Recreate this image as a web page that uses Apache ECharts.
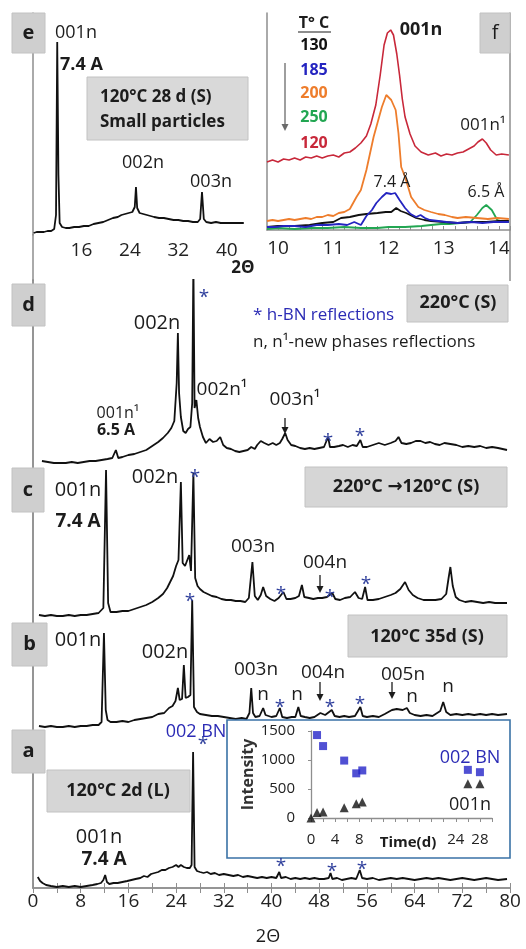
<!DOCTYPE html>
<html>
<head>
<meta charset="utf-8">
<script src="https://cdn.jsdelivr.net/npm/echarts@6.0.0/dist/echarts.min.js"></script>
<style>
  html, body { margin: 0; padding: 0; background: #fff; }
  #chart { width: 526px; height: 949px; }
</style>
</head>
<body>
<div id="chart"></div>
<script>
// ---- data ----
// main panel: 2theta, intensity above each pattern's own baseline
var patternA = [[0.8,10],[1.2,6],[1.6,4],[2.2,2],[3,1],[4,0],[5,1],[6,0],[7,1],[8,0],[9,1],[10,2],[10.8,3],[11.4,4],[11.8,7],[12.1,12],[12.4,5],[12.8,3],[13.5,4],[14.2,4],[15,5],[15.8,6],[16.5,7],[17.2,8],[18,9],[18.6,11],[19.2,10],[19.8,13],[20.4,14],[21,15],[21.6,17],[22.2,17],[22.8,19],[23.4,20],[24,22],[24.4,20],[24.8,22],[25.3,20],[25.8,19],[26.3,19],[26.6,22],[26.85,135],[27.1,20],[27.5,16],[28,15],[28.6,14],[29.2,15],[29.8,13],[30.5,14],[31.2,12],[32,13],[32.8,12],[33.6,11],[34.4,12],[35.2,10],[36,11],[36.8,10],[37.6,9],[38.4,10],[39.2,9],[40,10],[40.8,9],[41.3,15],[41.6,9],[42.4,10],[43.2,8],[44,9],[44.8,8],[45.6,9],[46.4,8],[47.2,9],[48,8],[48.8,8],[49.6,9],[49.9,14],[50.2,8],[51,9],[51.8,7],[52.6,8],[53.4,9],[54.2,8],[54.8,17],[55.2,9],[56,8],[57,9],[58,7],[59,8],[60,9],[61,8],[62,9],[63,8],[64,7],[65,8],[66,9],[67,8],[68,9],[69,8],[70,7],[71,8],[72,9],[73,8],[74,7],[75,8],[76,9],[77,8],[78,7],[79.5,8]];
var patternB = [[1,1],[2,0],[3,1],[4,0],[5,0],[6,1],[7,0],[8,1],[9,1],[10,2],[11,2],[11.5,5],[11.9,94],[12.2,17],[12.5,7],[13,5],[14,5],[15,6],[16,5],[17,7],[18,8],[19,9],[20,10],[21,13],[22,14],[22.8,19],[23.4,21],[23.9,26],[24.3,39],[24.6,27],[25,28],[25.3,62],[25.6,29],[26,30],[26.4,32],[26.7,127],[27,20],[27.5,15],[28,13],[29,12],[30,11],[31,11],[32,10],[33,9],[34,8],[35,9],[35.8,8],[36.3,14],[36.6,39],[36.9,14],[37.3,10],[38,11],[38.6,19],[39,12],[40,10],[40.8,11],[41.4,19],[41.8,10],[42.6,9],[43.4,10],[44,10],[44.5,20],[44.9,11],[45.6,10],[46.4,9],[47.2,10],[48.2,14],[49,12],[50.1,17],[50.6,11],[51.4,10],[52.2,11],[53,10],[54,11],[54.9,20],[55.3,11],[56,10],[57,11],[58,10],[59,13],[60.2,17],[61,18],[62,17],[62.7,19],[63.2,14],[64,12],[65,11],[66,12],[67,11],[68.3,16],[68.8,25],[69.3,15],[70,12],[71,13],[72,12],[73,13],[74,12],[75,13],[76,12],[77,13],[78,12],[79.5,13]];
var patternC = [[1,1],[2,0],[3,1],[4,0],[5,0],[6,1],[7,0],[8,1],[9,1],[10,2],[11,3],[11.8,8],[12.25,146],[12.6,13],[13,4],[14,4],[15,5],[16,5],[17,7],[18,9],[19,11],[20,14],[21,18],[21.8,22],[22.5,28],[23,34],[23.5,40],[24,50],[24.4,56],[24.8,134],[25.1,53],[25.5,50],[25.8,52],[26.2,61],[26.5,45],[26.9,143],[27.2,38],[27.6,30],[28,27],[28.6,24],[29.3,22],[30,20],[30.8,19],[31.6,17],[32.4,16],[33.2,16],[34,15],[34.8,15],[35.6,14],[36.2,18],[36.8,54],[37.2,20],[37.7,16],[38.2,21],[38.6,29],[39.1,20],[39.8,17],[40.5,15],[41.2,18],[42,24],[42.5,17],[43.2,17],[44,18],[44.6,20],[45.1,31],[45.5,19],[46.3,18],[47,17],[47.8,18],[48.5,18],[49.3,19],[50.2,23],[50.7,17],[51.5,16],[52.3,18],[53.2,19],[54,24],[54.6,18],[55.2,17],[55.7,29],[56.1,16],[57,16],[58,17],[59,19],[60,21],[60.8,23],[61.6,27],[62.4,34],[63,26],[63.7,21],[64.5,18],[65.5,16],[66.5,16],[67.5,16],[68.5,17],[69.3,22],[69.7,38],[70,49],[70.4,30],[70.9,19],[71.5,16],[72.5,14],[73.5,15],[74.5,14],[75.5,13],[76.5,14],[77.5,13],[78.5,13],[79.5,13]];
var patternD = [[1.5,2],[2.5,1],[3.5,0],[4.5,0],[5.5,0],[6.5,1],[7.5,0],[8.5,1],[9.5,2],[10.5,2],[11.5,3],[12.5,4],[13.3,5],[13.9,13],[14.3,5],[15,6],[16,8],[17,9],[18,11],[19,13],[20,17],[21,21],[21.8,25],[22.6,30],[23.2,35],[23.7,42],[24.1,80],[24.3,130],[24.5,70],[24.8,46],[25.2,32],[25.6,30],[26,34],[26.4,36],[26.7,60],[26.9,200],[27.1,55],[27.4,63],[27.7,45],[28,36],[28.5,26],[29,20],[29.6,24],[30.2,21],[30.8,22],[31.4,26],[31.9,18],[32.5,15],[33.2,14],[33.9,12],[34.6,11],[35.3,12],[36,13],[36.6,16],[37.2,14],[37.6,18],[38.2,22],[38.8,20],[39.5,18],[40.2,20],[40.8,18],[41.4,20],[41.8,24],[42.3,30],[42.7,23],[43.3,18],[44,17],[44.8,15],[45.6,14],[46.4,15],[47.2,14],[48,15],[48.8,16],[49.5,26],[49.8,16],[50.5,16],[51.3,17],[52,18],[52.8,16],[53.6,18],[54.3,17],[54.9,23],[55.3,16],[56,16],[57,18],[58,20],[59,18],[60,20],[60.8,22],[61.3,26],[61.8,20],[62.6,19],[63.4,20],[64.2,22],[65,22],[65.8,20],[66.6,21],[67.4,19],[68.2,18],[69,20],[70,19],[71,18],[72,16],[73,17],[74,16],[75,17],[76,15],[77,16],[78,15],[79.5,13]];
var patternOffsets = [1, 161, 272, 425];   // a, b, c, d stacked

// panel e: 120C 28 d small particles
var patternE = [[8.1,2],[8.6,3],[9.2,3],[9.8,3],[10.4,4],[11,4],[11.5,6],[11.8,20],[12.0,193],[12.2,60],[12.4,12],[12.8,8],[13.4,7],[14,7],[14.8,8],[15.6,8],[16.4,9],[17.2,9],[18,11],[18.8,12],[19.6,13],[20.4,15],[21.2,17],[22,18],[22.6,20],[23.2,21],[23.8,22],[24.4,23],[24.8,28],[25.0,48],[25.2,27],[25.6,22],[26.2,21],[26.8,20],[27.4,19],[28,18],[28.8,17],[29.6,17],[30.4,16],[31.2,15],[32,15],[32.8,14],[33.6,14],[34.4,13],[35.2,13],[35.6,16],[35.9,43],[36.2,16],[36.6,13],[37.4,12],[38.2,13],[39,12],[39.8,12],[40.6,12],[41.4,12],[42.2,12],[42.8,12]];

// panel f: 001n region at different temperatures
var fTemps = ['130', '185', '200', '250', '120'];
var fColors = ['#111111', '#2424c0', '#ee7d2c', '#22a652', '#c8283a'];
var f130 = [[9.8,3],[10.0,4],[10.3,4],[10.57,5],[10.8,7],[11.0,8],[11.14,12],[11.3,13],[11.46,15],[11.6,16],[11.8,17],[11.95,18],[12.05,18],[12.14,22],[12.22,19],[12.32,17],[12.5,12],[12.65,10],[12.77,9],[13.0,8],[13.25,7],[13.5,8],[13.77,8],[14.0,9],[14.18,9]];
var f185 = [[9.8,3],[9.95,3],[10.1,4],[10.3,4],[10.5,3],[10.7,5],[10.9,5],[11.1,6],[11.25,5],[11.38,8],[11.5,5],[11.6,14],[11.7,20],[11.78,27],[11.88,33],[11.96,37],[12.05,36],[12.12,37],[12.2,30],[12.3,22],[12.4,16],[12.5,13],[12.58,15],[12.66,12],[12.75,10],[12.9,9],[13.05,8],[13.25,7],[13.5,8],[13.7,7],[13.9,8],[14.18,8]];
var f200 = [[9.8,9],[9.9,10],[10.0,9],[10.1,10],[10.2,11],[10.3,10],[10.4,11],[10.5,12],[10.6,11],[10.7,13],[10.8,13],[10.9,15],[11.0,14],[11.1,17],[11.2,18],[11.3,21],[11.42,33],[11.5,40],[11.6,60],[11.73,93],[11.88,123],[11.96,135],[12.05,130],[12.13,120],[12.18,97],[12.23,63],[12.3,53],[12.41,33],[12.54,23],[12.65,20],[12.77,18],[12.9,16],[13.02,15],[13.15,13],[13.25,12],[13.4,13],[13.6,12],[13.8,11],[13.97,12],[14.18,11]];
var f250 = [[9.8,1],[10.0,2],[10.3,1],[10.6,2],[10.9,2],[11.2,3],[11.5,2],[11.8,2],[12.0,3],[12.3,3],[12.6,4],[12.77,5],[12.95,6],[13.1,6],[13.3,7],[13.48,8],[13.6,15],[13.7,22],[13.77,25],[13.87,20],[13.97,10],[14.1,8],[14.18,8]];
var f120 = [[9.8,68],[9.9,70],[10.0,68],[10.1,71],[10.2,70],[10.3,72],[10.4,70],[10.5,73],[10.6,72],[10.7,74],[10.8,72],[10.9,74],[11.0,75],[11.1,73],[11.2,77],[11.3,78],[11.4,82],[11.5,87],[11.6,94],[11.68,106],[11.77,125],[11.85,155],[11.92,185],[11.98,197],[12.04,200],[12.09,195],[12.15,176],[12.2,155],[12.25,131],[12.3,113],[12.39,96],[12.48,84],[12.59,78],[12.72,75],[12.85,77],[12.95,74],[13.05,76],[13.15,75],[13.25,77],[13.35,78],[13.45,81],[13.55,84],[13.62,88],[13.7,91],[13.77,87],[13.85,80],[13.95,75],[14.05,76],[14.18,75]];

// inset: peak intensity vs time
var insetDays  = [1, 2, 5.5, 7.5, 8.5, 26, 28];
var insetBN    = [1430, 1240, 990, 770, 820, 830, 790];
var insetDays001 = [0, 1, 2, 5.5, 7.5, 8.5, 26, 28];
var inset001   = [0, 95, 105, 175, 245, 275, 590, 590];

var mainTickLabels  = [0, 8, 16, 24, 32, 40, 48, 56, 64, 72, 80];
var eTickLabels     = [16, 24, 32, 40];
var insetTimeLabels = [0, 4, 8, 24, 28];

// ---- chart ----
var FONT = '"Open Sans", "DejaVu Sans", sans-serif';
var GRAY = '#8e8e8e';
var chart = echarts.init(document.getElementById('chart'));

function stacked(pts, off) {
    return pts.map(function (p) { return [p[0], p[1] + off]; });
}
function lineSeries(data, xi, yi, color, width, z) {
    return {
        type: 'line', data: data, xAxisIndex: xi, yAxisIndex: yi,
        showSymbol: false, symbol: 'none', smooth: false, z: z || 2,
        lineStyle: { color: color, width: width || 1.8 }, silent: true
    };
}
function txt(x, y, s, o) {
    o = o || {};
    return {
        type: 'text', x: x, y: y, z: 50, silent: true,
        style: {
            text: s, fill: o.color || '#1c1c1c',
            font: (o.bold ? 'bold ' : '') + (o.size || 18) + 'px ' + FONT,
            align: o.align || 'center', verticalAlign: 'middle'
        }
    };
}
function box(x, y, w, h, fill) {
    return {
        type: 'rect', z: 45, silent: true,
        shape: { x: x, y: y, width: w, height: h },
        style: { fill: fill || '#d6d6d6', stroke: '#c2c2c2', lineWidth: 1 }
    };
}
function seg(x1, y1, x2, y2, color, w, z) {
    return {
        type: 'line', z: z || 45, silent: true,
        shape: { x1: x1, y1: y1, x2: x2, y2: y2 },
        style: { stroke: color || GRAY, lineWidth: w || 1.5 }
    };
}
function arrowDown(x, y1, y2, color) {
    color = color || '#1c1c1c';
    return [
        seg(x, y1, x, y2 - 5, color, 1.3, 50),
        { type: 'polygon', z: 50, silent: true,
          shape: { points: [[x - 3.5, y2 - 7], [x + 3.5, y2 - 7], [x, y2]] },
          style: { fill: color } }
    ];
}
function star(x, y) {
    return txt(x, y + 5, '*', { color: '#2f3f9c', size: 19 });
}

var BLUE_TXT = '#2b2bb5';

var graphics = [
    // connecting frame pieces between panels
    seg(33, 234, 33, 281),
    seg(510, 229, 510, 281),
    // inset frame
    { type: 'rect', z: 10, silent: true,
      shape: { x: 227, y: 720, width: 283, height: 138 },
      style: { fill: '#ffffff', stroke: '#3a72a6', lineWidth: 1.6 } },

    // panel e
    box(12, 13, 33, 40, '#cfcfcf'), txt(28.5, 33, 'e', { bold: true, size: 20 }),
    txt(55, 33, '001n', { align: 'left' }),
    txt(60, 65, '7.4 A', { bold: true, align: 'left' }),
    box(87, 77, 161, 63, '#d9d9d9'),
    txt(100, 97, '120°C 28 d (S)', { bold: true, align: 'left', size: 17 }),
    txt(100, 122, 'Small particles', { bold: true, align: 'left', size: 17 }),
    txt(143, 163, '002n'),
    txt(211, 182, '003n'),
    txt(243, 268, '2Θ', { bold: true, size: 17 }),

    // panel f
    txt(314, 23, 'T° C', { bold: true, size: 16 }),
    seg(298, 32, 331, 32, '#1c1c1c', 1.2, 50),
    txt(421, 30, '001n', { bold: true, size: 18 }),
    box(480, 13, 30, 40, '#cfcfcf'), txt(495, 33, 'f', { size: 20 }),
    txt(483, 125, '001n¹', { size: 17 }),
    txt(392, 182, '7.4 Å', { size: 16 }),
    txt(486, 192, '6.5 Å', { size: 16 }),

    // letter boxes for a-d
    box(12, 284, 33, 42, '#cfcfcf'), txt(28.5, 305, 'd', { bold: true, size: 20 }),
    box(12, 468, 32, 44, '#cfcfcf'), txt(28, 490, 'c', { bold: true, size: 20 }),
    box(12, 623, 35, 43, '#cfcfcf'), txt(29.5, 644, 'b', { bold: true, size: 20 }),
    box(12, 730, 33, 43, '#cfcfcf'), txt(28.5, 751, 'a', { bold: true, size: 20 }),

    // condition boxes
    box(407, 285, 101, 37), txt(458, 303, '220°C (S)', { bold: true, size: 18 }),
    box(305, 467, 202, 40), txt(406, 487, '220°C →120°C (S)', { bold: true, size: 18 }),
    box(348, 615, 159, 42), txt(427, 637, '120°C 35d (S)', { bold: true, size: 18 }),
    box(47, 770, 143, 42), txt(118, 791, '120°C 2d (L)', { bold: true, size: 18 }),

    // legend notes
    txt(253, 315, '* h-BN reflections', { color: BLUE_TXT, align: 'left', size: 17 }),
    txt(253, 342, 'n, n¹-new phases reflections', { align: 'left', size: 17 }),

    // d
    txt(157, 323, '002n', { size: 20 }),
    txt(222, 390, '002n¹', { size: 19 }),
    txt(295, 400, '003n¹', { size: 19 }),
    txt(118, 413, '001n¹', { size: 16 }),
    txt(116, 430, '6.5 A', { bold: true, size: 16 }),
    star(204, 293), star(328, 437), star(360, 432),

    // c
    txt(78, 490, '001n', { size: 20 }),
    txt(78, 522, '7.4 A', { bold: true, size: 19 }),
    txt(155, 477, '002n', { size: 20 }),
    txt(253, 547, '003n', { size: 19 }),
    txt(325, 563, '004n', { size: 19 }),
    star(195, 473), star(281, 590), star(330, 593), star(366, 580),

    // b
    txt(78, 640, '001n', { size: 20 }),
    txt(165, 652, '002n', { size: 20 }),
    txt(256, 670, '003n', { size: 19 }),
    txt(323, 673, '004n', { size: 19 }),
    txt(403, 675, '005n', { size: 19 }),
    txt(263, 695, 'n', { size: 19 }), txt(297, 695, 'n', { size: 19 }),
    txt(412, 697, 'n', { size: 19 }), txt(448, 687, 'n', { size: 19 }),
    star(190, 597), star(280, 703), star(330, 703), star(360, 700),

    // a
    txt(196, 732, '002 BN', { color: BLUE_TXT, size: 18 }),
    txt(99, 837, '001n', { size: 20 }),
    txt(104, 860, '7.4 A', { bold: true, size: 19 }),
    star(203, 740), star(281, 862), star(332, 867), star(362, 865),

    // inset texts
    txt(470, 758, '002 BN', { color: BLUE_TXT, size: 18 }),
    txt(470, 805, '001n', { size: 18 }),
    txt(408, 843, 'Time(d)', { bold: true, size: 15 }),

    // bottom axis title
    txt(268, 937, '2Θ', { size: 18 })
];
graphics = graphics
    .concat(arrowDown(285, 418, 434))
    .concat(arrowDown(320, 575, 593))
    .concat(arrowDown(320, 682, 701))
    .concat(arrowDown(392, 682, 699))
    .concat(arrowDown(285, 63, 131, '#6a6a6a'));

// f legend temperatures
var fLegendY = [45, 70, 93, 117, 143];
fTemps.forEach(function (t, i) {
    graphics.push(txt(314, fLegendY[i], t, { bold: true, size: 16, color: fColors[i] }));
});

var hidden = { show: false };
var option = {
    animation: false,
    backgroundColor: '#ffffff',
    grid: [
        { left: 33, top: 280, width: 477, height: 608 },   // main a-d
        { left: 33, top: 13, width: 212, height: 222 },    // e
        { left: 267, top: 13, width: 243, height: 217 },   // f
        { left: 311, top: 731, width: 181, height: 87 }    // inset
    ],
    xAxis: [
        { type: 'value', gridIndex: 0, min: 0, max: 80, interval: 4,
          axisLine: { lineStyle: { color: GRAY, width: 1.5 } },
          axisTick: { inside: true, length: 5, lineStyle: { color: GRAY } },
          axisLabel: { margin: 4, fontSize: 19, color: '#222', fontFamily: FONT,
              formatter: function (v) { return mainTickLabels.indexOf(v) >= 0 ? String(v) : ''; } },
          splitLine: hidden },
        { type: 'value', gridIndex: 0, position: 'top', min: 0, max: 80, interval: 4,
          axisLine: { lineStyle: { color: GRAY, width: 1.5 } },
          axisTick: { inside: true, length: 5, lineStyle: { color: GRAY } },
          axisLabel: hidden, splitLine: hidden },
        { type: 'value', gridIndex: 1, min: 8, max: 43, interval: 8,
          axisLine: hidden, axisTick: hidden, splitLine: hidden,
          axisLabel: { margin: 6, fontSize: 19, color: '#222', fontFamily: FONT, showMaxLabel: false,
              formatter: function (v) { return eTickLabels.indexOf(v) >= 0 ? String(v) : ''; } } },
        { type: 'value', gridIndex: 2, min: 9.8, max: 14.2, interval: 0.2,
          axisLine: { lineStyle: { color: GRAY, width: 1.5 } },
          axisTick: { inside: true, length: 4, lineStyle: { color: GRAY } },
          axisLabel: { margin: 9, fontSize: 19, color: '#222', fontFamily: FONT,
              formatter: function (v) { return Math.abs(v - Math.round(v)) < 1e-6 ? String(Math.round(v)) : ''; } },
          splitLine: hidden },
        { type: 'value', gridIndex: 3, min: 0, max: 30, interval: 2, z: 12,
          axisLine: { lineStyle: { color: GRAY, width: 1.3 } },
          axisTick: { length: 4, lineStyle: { color: GRAY } },
          axisLabel: { margin: 14, fontSize: 15, color: '#222', fontFamily: FONT,
              formatter: function (v) { return insetTimeLabels.indexOf(v) >= 0 ? String(v) : ''; } },
          splitLine: hidden }
    ],
    yAxis: [
        { type: 'value', gridIndex: 0, min: 0, max: 608,
          axisLine: { show: true, lineStyle: { color: GRAY, width: 1.5 } },
          axisTick: hidden, axisLabel: hidden, splitLine: hidden },
        { type: 'value', gridIndex: 0, position: 'right', min: 0, max: 608,
          axisLine: { show: true, lineStyle: { color: GRAY, width: 1.5 } },
          axisTick: hidden, axisLabel: hidden, splitLine: hidden },
        { type: 'value', gridIndex: 1, min: 0, max: 222,
          axisLine: { show: true, lineStyle: { color: GRAY, width: 1.5 } },
          axisTick: hidden, axisLabel: hidden, splitLine: hidden },
        { type: 'value', gridIndex: 2, min: 0, max: 217,
          axisLine: { show: true, lineStyle: { color: GRAY, width: 1.5 } },
          axisTick: hidden, axisLabel: hidden, splitLine: hidden },
        { type: 'value', gridIndex: 2, position: 'right', min: 0, max: 217,
          axisLine: { show: true, lineStyle: { color: GRAY, width: 1.5 } },
          axisTick: hidden, axisLabel: hidden, splitLine: hidden },
        { type: 'value', gridIndex: 3, min: 0, max: 1500, interval: 500, z: 12,
          name: 'Intensity', nameLocation: 'middle', nameGap: 52, nameRotate: 90,
          nameTextStyle: { fontSize: 16, fontWeight: 'bold', color: '#333', fontFamily: FONT },
          axisLine: { show: true, lineStyle: { color: GRAY, width: 1.3 } },
          axisTick: { show: true, length: 3, lineStyle: { color: GRAY } },
          axisLabel: { margin: 16, fontSize: 15, color: '#222', fontFamily: FONT,
              formatter: function (v) { return String(v); } },
          splitLine: hidden }
    ],
    series: [
        lineSeries(stacked(patternA, patternOffsets[0]), 0, 0, '#111'),
        lineSeries(stacked(patternB, patternOffsets[1]), 0, 0, '#111'),
        lineSeries(stacked(patternC, patternOffsets[2]), 0, 0, '#111'),
        lineSeries(stacked(patternD, patternOffsets[3]), 0, 0, '#111'),
        lineSeries(patternE, 2, 2, '#111'),
        lineSeries(f250, 3, 3, fColors[3], 1.8),
        lineSeries(f130, 3, 3, fColors[0], 1.8),
        lineSeries(f185, 3, 3, fColors[1], 1.8),
        lineSeries(f200, 3, 3, fColors[2], 1.8),
        lineSeries(f120, 3, 3, fColors[4], 1.6),
        { type: 'scatter', xAxisIndex: 4, yAxisIndex: 5, z: 13, silent: true,
          symbol: 'rect', symbolSize: 8, itemStyle: { color: '#2424c8' },
          data: insetDays.map(function (d, i) { return [d, insetBN[i]]; }) },
        { type: 'scatter', xAxisIndex: 4, yAxisIndex: 5, z: 13, silent: true,
          symbol: 'triangle', symbolSize: 9, itemStyle: { color: '#111' },
          data: insetDays001.map(function (d, i) { return [d, inset001[i]]; }) }
    ],
    graphic: { elements: graphics }
};

chart.setOption(option);
window.addEventListener('resize', function () { chart.resize(); });
</script>
</body>
</html>
